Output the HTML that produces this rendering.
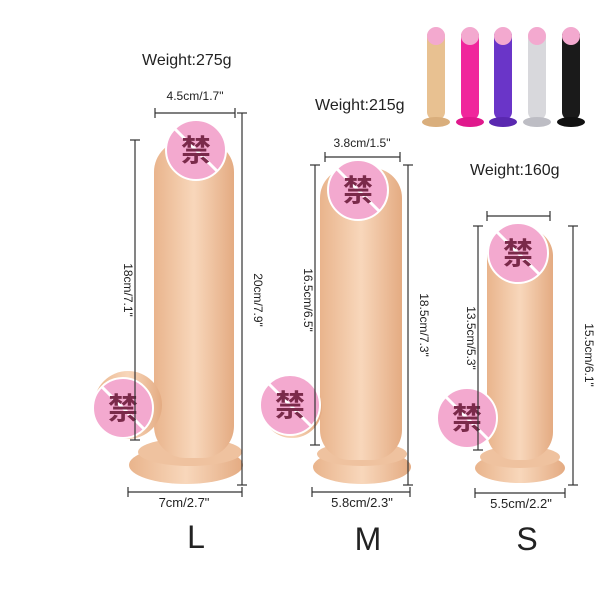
<!DOCTYPE html>
<html><head><meta charset="utf-8"><style>
html,body{margin:0;padding:0;background:#fff;width:600px;height:600px;overflow:hidden}
svg text{font-family:"Liberation Sans","Noto Sans CJK SC",sans-serif;fill:#222}
</style></head><body>
<svg width="600" height="600" viewBox="0 0 600 600" xmlns="http://www.w3.org/2000/svg">
<defs>
<linearGradient id="sk" x1="0" x2="1"><stop offset="0" stop-color="#e9b48c"/><stop offset="0.5" stop-color="#f8d7bb"/><stop offset="1" stop-color="#e4ab82"/></linearGradient>
<g id="ban"><circle r="30" fill="#f3a9cf" stroke="#fff" stroke-width="2"/><line x1="-21" y1="-21" x2="21" y2="21" stroke="#fff" stroke-width="3"/><text x="0" y="11" font-size="30" text-anchor="middle" style="fill:#7a2a4a;font-weight:bold">禁</text></g>
</defs>
<!-- L -->
<text x="142" y="65" font-size="16">Weight:275g</text>
<ellipse cx="186" cy="465" rx="57" ry="19" fill="url(#sk)"/>
<ellipse cx="190" cy="452" rx="52" ry="14" fill="#efc29f"/>
<rect x="154" y="140" width="80" height="318" rx="32" fill="url(#sk)"/>
<circle cx="128" cy="405" r="34" fill="url(#sk)"/>
<use href="#ban" x="196" y="150"/>
<use href="#ban" x="123" y="408"/>
<g stroke="#333" stroke-width="1.2">
<line x1="155" y1="113" x2="235" y2="113"/><line x1="155" y1="108" x2="155" y2="118"/><line x1="235" y1="108" x2="235" y2="118"/>
<line x1="135" y1="140" x2="135" y2="440"/><line x1="130" y1="140" x2="140" y2="140"/><line x1="130" y1="440" x2="140" y2="440"/>
<line x1="242" y1="113" x2="242" y2="485"/><line x1="237" y1="113" x2="247" y2="113"/><line x1="237" y1="485" x2="247" y2="485"/>
<line x1="128" y1="492" x2="242" y2="492"/><line x1="128" y1="487" x2="128" y2="497"/><line x1="242" y1="487" x2="242" y2="497"/>
</g>
<text x="195" y="100" font-size="12" text-anchor="middle">4.5cm/1.7"</text>
<text transform="translate(124,290) rotate(90)" font-size="12" text-anchor="middle">18cm/7.1"</text>
<text transform="translate(254,300) rotate(90)" font-size="12" text-anchor="middle">20cm/7.9"</text>
<text x="184" y="507" font-size="13" text-anchor="middle">7cm/2.7"</text>
<text x="196" y="548" font-size="32" text-anchor="middle">L</text>
<!-- M -->
<text x="315" y="110" font-size="16">Weight:215g</text>
<ellipse cx="362" cy="467" rx="49" ry="17" fill="url(#sk)"/>
<ellipse cx="362" cy="454" rx="45" ry="12" fill="#efc29f"/>
<rect x="320" y="168" width="82" height="292" rx="30" fill="url(#sk)"/>
<circle cx="292" cy="408" r="30" fill="url(#sk)"/>
<use href="#ban" x="358" y="190"/>
<use href="#ban" x="290" y="405"/>
<g stroke="#333" stroke-width="1.2">
<line x1="325" y1="157" x2="400" y2="157"/><line x1="325" y1="152" x2="325" y2="162"/><line x1="400" y1="152" x2="400" y2="162"/>
<line x1="315" y1="165" x2="315" y2="445"/><line x1="310" y1="165" x2="320" y2="165"/><line x1="310" y1="445" x2="320" y2="445"/>
<line x1="408" y1="165" x2="408" y2="485"/><line x1="403" y1="165" x2="413" y2="165"/><line x1="403" y1="485" x2="413" y2="485"/>
<line x1="312" y1="492" x2="410" y2="492"/><line x1="312" y1="487" x2="312" y2="497"/><line x1="410" y1="487" x2="410" y2="497"/>
</g>
<text x="362" y="147" font-size="12" text-anchor="middle">3.8cm/1.5"</text>
<text transform="translate(304,300) rotate(90)" font-size="12" text-anchor="middle">16.5cm/6.5"</text>
<text transform="translate(420,325) rotate(90)" font-size="12" text-anchor="middle">18.5cm/7.3"</text>
<text x="362" y="507" font-size="13" text-anchor="middle">5.8cm/2.3"</text>
<text x="368" y="550" font-size="32" text-anchor="middle">M</text>
<!-- S -->
<text x="470" y="175" font-size="16">Weight:160g</text>
<ellipse cx="520" cy="468" rx="45" ry="15" fill="url(#sk)"/>
<ellipse cx="520" cy="457" rx="40" ry="11" fill="#efc29f"/>
<rect x="487" y="228" width="66" height="232" rx="28" fill="url(#sk)"/>
<circle cx="468" cy="418" r="25" fill="url(#sk)"/>
<use href="#ban" x="518" y="253"/>
<use href="#ban" x="467" y="418"/>
<g stroke="#333" stroke-width="1.2">
<line x1="487" y1="216" x2="550" y2="216"/><line x1="487" y1="211" x2="487" y2="221"/><line x1="550" y1="211" x2="550" y2="221"/>
<line x1="478" y1="226" x2="478" y2="450"/><line x1="473" y1="226" x2="483" y2="226"/><line x1="473" y1="450" x2="483" y2="450"/>
<line x1="573" y1="226" x2="573" y2="485"/><line x1="568" y1="226" x2="578" y2="226"/><line x1="568" y1="485" x2="578" y2="485"/>
<line x1="475" y1="493" x2="565" y2="493"/><line x1="475" y1="488" x2="475" y2="498"/><line x1="565" y1="488" x2="565" y2="498"/>
</g>
<text transform="translate(467,338) rotate(90)" font-size="12" text-anchor="middle">13.5cm/5.3"</text>
<text transform="translate(585,355) rotate(90)" font-size="12" text-anchor="middle">15.5cm/6.1"</text>
<text x="521" y="508" font-size="13" text-anchor="middle">5.5cm/2.2"</text>
<text x="527" y="550" font-size="32" text-anchor="middle">S</text>
<!-- thumbnails -->
<g>
<rect x="427" y="28" width="18" height="92" rx="8" fill="#e8c191"/><ellipse cx="436" cy="122" rx="14" ry="5" fill="#d9ae7c"/>
<rect x="461" y="28" width="18" height="92" rx="8" fill="#f0269c"/><ellipse cx="470" cy="122" rx="14" ry="5" fill="#e0188c"/>
<rect x="494" y="28" width="18" height="92" rx="8" fill="#6a35c8"/><ellipse cx="503" cy="122" rx="14" ry="5" fill="#5a28b0"/>
<rect x="528" y="28" width="18" height="92" rx="8" fill="#d8d8dc"/><ellipse cx="537" cy="122" rx="14" ry="5" fill="#bdbdc4"/>
<rect x="562" y="28" width="18" height="92" rx="8" fill="#1a1a1a"/><ellipse cx="571" cy="122" rx="14" ry="5" fill="#111"/>
<circle cx="436" cy="36" r="9" fill="#f3a9cf"/><circle cx="470" cy="36" r="9" fill="#f3a9cf"/><circle cx="503" cy="36" r="9" fill="#f3a9cf"/><circle cx="537" cy="36" r="9" fill="#f3a9cf"/><circle cx="571" cy="36" r="9" fill="#f3a9cf"/>
</g>
</svg>
</body></html>
